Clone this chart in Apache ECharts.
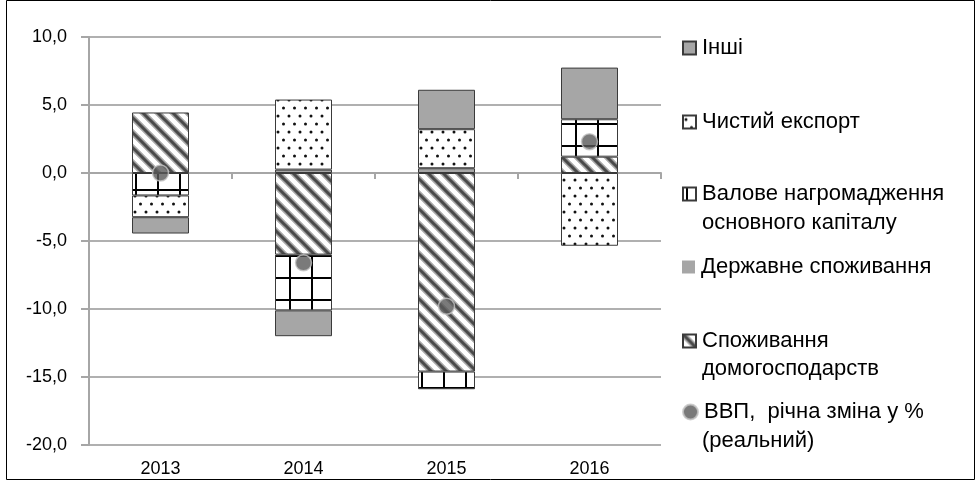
<!DOCTYPE html>
<html><head><meta charset="utf-8">
<script src="https://cdn.jsdelivr.net/npm/echarts@6/dist/echarts.min.js"></script>
<style>html,body{margin:0;padding:0;background:#fff}#c{width:976px;height:500px}</style>
</head><body><div id="c"></div>
<script>
// ---- data ----
const categories = ['2013', '2014', '2015', '2016'];
const household = [4.45, -6.0, -14.6, 1.2];      // Споживання домогосподарств
const government = [null, 0.25, 0.35, null];     // Державне споживання
const fixedCapital = [-1.65, -4.1, -1.3, 2.75];  // Валове нагромадження основного капіталу
const netExport = [-1.6, 5.15, 2.87, -5.35];     // Чистий експорт
const others = [-1.2, -1.9, 2.9, 3.8];           // Інші
const gdp = [0.0, -6.6, -9.8, 2.3];              // ВВП, річна зміна у %
const yMin = -20, yMax = 10, yStep = 5;

const N_HH = 'Споживання домогосподарств';
const N_GOV = 'Державне споживання';
const N_FC = 'Валове нагромадження основного капіталу';
const N_NX = 'Чистий експорт';
const N_OT = 'Інші';
const N_GDP = 'ВВП,  річна зміна у % (реальний)';

const FONT = '"Liberation Sans", Arial, sans-serif';

// ---- patterns ----
function tile(w, h, draw) {
  const c = document.createElement('canvas');
  c.width = w; c.height = h;
  const g = c.getContext('2d');
  g.fillStyle = '#fff'; g.fillRect(0, 0, w, h);
  draw(g);
  return c;
}
const diagTile = tile(15, 15, g => {
  [[6, '#a8a8a8'], [3, '#4a4a4a']].forEach(([lw, col]) => {
    g.strokeStyle = col; g.lineWidth = lw; g.beginPath();
    for (let k = -2; k <= 2; k++) { g.moveTo(k * 15 - 5, -5); g.lineTo(k * 15 + 20, 20); }
    g.stroke();
  });
});
const dotTile = tile(11, 16, g => {
  g.fillStyle = '#111';
  g.beginPath(); g.arc(3, 4, 1.5, 0, Math.PI * 2); g.fill();
  g.beginPath(); g.arc(8.5, 12, 1.5, 0, Math.PI * 2); g.fill();
});
const gridTile = tile(22, 22, g => {
  g.fillStyle = '#000';
  g.fillRect(3, 0, 2, 22);
  g.fillRect(0, 13, 22, 2);
});
const pat = c => ({ image: c, repeat: 'repeat' });

const border = { borderColor: '#3a3a3a', borderWidth: 1 };
function barSeries(name, data, color) {
  return {
    name, type: 'bar', stack: 'total', data, barWidth: 57,
    itemStyle: Object.assign({ color }, border),
    emphasis: { disabled: true }
  };
}

const firstLine = {};
firstLine[N_OT] = 'Інші';
firstLine[N_NX] = 'Чистий експорт';
firstLine[N_FC] = 'Валове нагромадження';
firstLine[N_GOV] = 'Державне споживання';
firstLine[N_HH] = 'Споживання';
firstLine[N_GDP] = 'ВВП,  річна зміна у %';

const legendRows = [
  [N_OT, 48, 'rect'], [N_NX, 122, 'rect'], [N_FC, 194, 'rect'],
  [N_GOV, 267, 'rect'], [N_HH, 341, 'rect'], [N_GDP, 412, 'circle']
];
const legends = legendRows.map(([name, cy, icon]) => ({
  data: [name === N_GOV ? { name, itemStyle: { borderWidth: 0 } } : name],
  left: 682, top: cy - 12, padding: 0, icon,
  itemWidth: icon === 'circle' ? 15 : 13, itemHeight: icon === 'circle' ? 15 : 13, itemGap: 0,
  selectedMode: false,
  formatter: n => firstLine[n],
  textStyle: { fontSize: 22, lineHeight: 24, fontFamily: FONT, color: '#000', padding: [0, 0, 0, 1] }
}));
const secondLines = [['основного капіталу', 223], ['домогосподарств', 369], ['(реальний)', 441]];

const chart = echarts.init(document.getElementById('c'), null, { renderer: 'canvas' });
chart.setOption({
  animation: false,
  backgroundColor: '#fff',
  grid: { left: 89, right: 315, top: 37, bottom: 55 },
  legend: legends,
  xAxis: [
    { type: 'category', data: categories, position: 'bottom',
      axisLine: { show: false, onZero: false }, axisTick: { show: false },
      axisLabel: { fontSize: 18, fontFamily: FONT, color: '#000', margin: 15 } },
    { type: 'category', data: categories, position: 'bottom',
      axisLine: { show: true, onZero: true, lineStyle: { color: '#a6a6a6', width: 2 } },
      axisTick: { show: true, length: 6, lineStyle: { color: '#a6a6a6', width: 2 } },
      axisLabel: { show: false } }
  ],
  yAxis: {
    type: 'value', min: yMin, max: yMax, interval: yStep,
    axisLine: { show: true, lineStyle: { color: '#a6a6a6', width: 2 } },
    axisTick: { show: true, length: 8, lineStyle: { color: '#a6a6a6', width: 2 } },
    splitLine: { lineStyle: { color: '#b0b0b0', width: 2 } },
    axisLabel: { fontSize: 18, fontFamily: FONT, color: '#000', margin: 22,
      formatter: v => v.toFixed(1).replace('.', ',') }
  },
  series: [
    barSeries(N_HH, household, pat(diagTile)),
    barSeries(N_GOV, government, '#a6a6a6'),
    barSeries(N_FC, fixedCapital, pat(gridTile)),
    barSeries(N_NX, netExport, pat(dotTile)),
    barSeries(N_OT, others, '#a6a6a6'),
    { name: N_GDP, type: 'scatter', data: gdp, symbol: 'circle', symbolSize: 16, z: 5,
      itemStyle: { color: '#595959', borderColor: '#c4c4c4', borderWidth: 1.5 },
      emphasis: { disabled: true } }
  ],
  graphic: [
    { type: 'rect', shape: { x: 6.5, y: 0.5, width: 968, height: 479 },
      style: { fill: 'none', stroke: '#000', lineWidth: 1 }, silent: true }
  ].concat(secondLines.map(([t, cy]) => ({
    type: 'text', x: 702, y: cy,
    style: { text: t, fontSize: 22, fontFamily: FONT, fill: '#000', verticalAlign: 'middle' },
    silent: true
  })))
});
</script></body></html>
